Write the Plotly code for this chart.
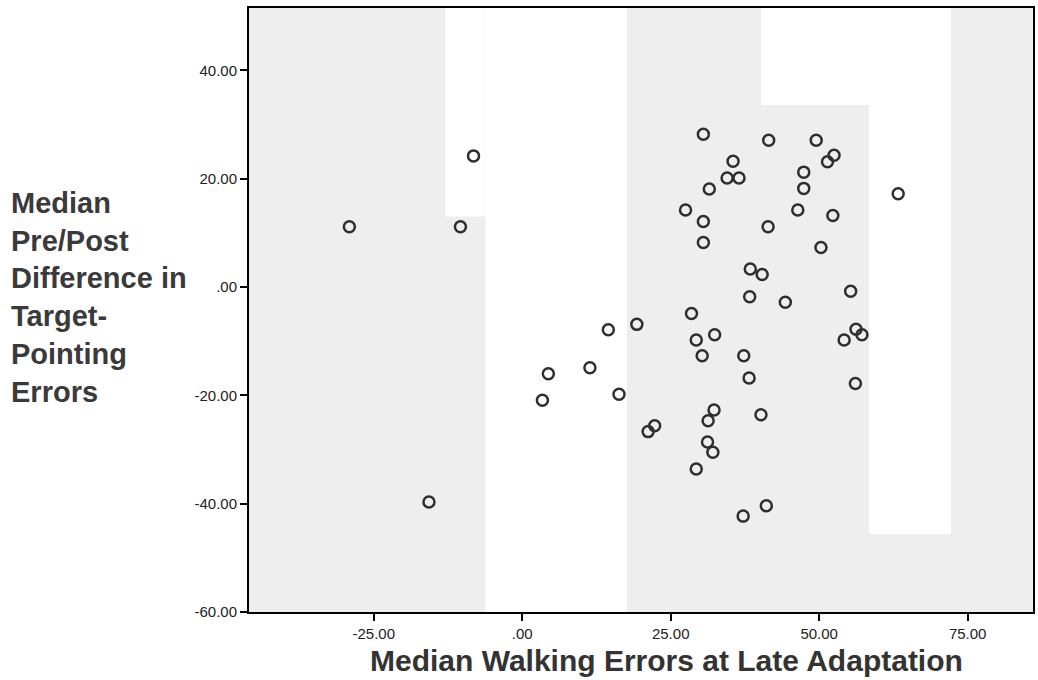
import plotly.graph_objects as go

# Data
walking_errors = [
    -29.1, -8.2, -10.4, -15.7, 3.4,
    30.5, 41.5, 35.5, 34.5, 36.5, 31.5, 27.5, 30.5, 41.4, 30.5,
    38.4, 40.4, 38.3, 28.5, 19.3, 14.5, 32.4, 29.3, 30.3, 37.3,
    11.4, 4.4, 38.2, 16.3, 32.3, 31.3, 40.2, 22.3, 21.2, 31.2,
    32.1, 29.3, 41.1, 37.2,
    49.5, 52.5, 51.4, 47.4, 47.4, 63.3, 46.4, 52.3, 50.3, 55.3,
    44.3, 56.2, 57.2, 54.2, 56.1,
]
pointing_diff = [
    11.1, 24.2, 11.1, -39.7, -20.9,
    28.2, 27.1, 23.2, 20.1, 20.1, 18.1, 14.2, 12.1, 11.1, 8.2,
    3.3, 2.3, -1.8, -4.9, -6.9, -7.9, -8.8, -9.8, -12.7, -12.7,
    -14.9, -16.0, -16.8, -19.8, -22.7, -24.7, -23.6, -25.6, -26.7, -28.6,
    -30.5, -33.6, -40.4, -42.3,
    27.1, 24.3, 23.1, 21.2, 18.2, 17.2, 14.2, 13.2, 7.3, -0.8,
    -2.8, -7.8, -8.8, -9.8, -17.8,
]

x_tickvals = [-25, 0, 25, 50, 75]
x_ticktext = ["-25.00", ".00", "25.00", "50.00", "75.00"]
y_tickvals = [40, 20, 0, -20, -40, -60]
y_ticktext = ["40.00", "20.00", ".00", "-20.00", "-40.00", "-60.00"]

x_title = "Median Walking Errors at Late Adaptation"
y_title_lines = ["Median", "Pre/Post", "Difference in", "Target-", "Pointing", "Errors"]

X_RANGE = [-46.0, 86.0]
Y_RANGE = [-60.0, 51.5]

fig = go.Figure()
fig.add_trace(go.Scatter(
    x=walking_errors, y=pointing_diff, mode="markers",
    marker=dict(symbol="circle-open", size=11, color="#2e2e2e",
                line=dict(width=2.5, color="#2e2e2e")),
    showlegend=False, hoverinfo="x+y",
))

# scanned-page white patches over the grey plot background
patches = [
    (-12.9, -6.2, 13.0, 51.5),
    (-6.2, 17.6, -60.0, 51.5),
    (40.2, 58.4, 33.6, 51.5),
    (58.4, 72.2, -45.6, 51.5),
]
for x0, x1, y0, y1 in patches:
    fig.add_shape(type="rect", xref="x", yref="y", x0=x0, x1=x1, y0=y0, y1=y1,
                  fillcolor="white", line=dict(width=0), layer="below")

axis_common = dict(
    showgrid=False, zeroline=False, showline=True, linecolor="black",
    linewidth=2, mirror=True, ticks="outside", ticklen=7, tickwidth=1.5,
    tickcolor="black", tickfont=dict(family="Liberation Sans, Arial", size=15, color="#222222"),
)
fig.update_xaxes(range=X_RANGE, tickvals=x_tickvals, ticktext=x_ticktext, **axis_common)
fig.update_yaxes(range=Y_RANGE, tickvals=y_tickvals, ticktext=y_ticktext, **axis_common)

fig.add_annotation(
    text="<b>" + x_title + "</b>", xref="paper", yref="paper",
    x=0.533, y=-0.08, xanchor="center", yanchor="middle", showarrow=False,
    font=dict(family="Liberation Sans, Arial", size=30, color="#333333"),
)
fig.add_annotation(
    text="<br>".join("<b>" + s + "</b>" for s in y_title_lines),
    xref="paper", yref="paper", x=-0.306, y=0.52, xanchor="left", yanchor="middle",
    align="left", showarrow=False,
    font=dict(family="Liberation Sans, Arial", size=29, color="#3a3a3a"),
)

fig.update_layout(
    width=1038, height=680,
    margin=dict(l=249, r=3, t=8, b=68),
    paper_bgcolor="white", plot_bgcolor="#eeeeee",
    showlegend=False,
)

fig.write_html("out.html")
